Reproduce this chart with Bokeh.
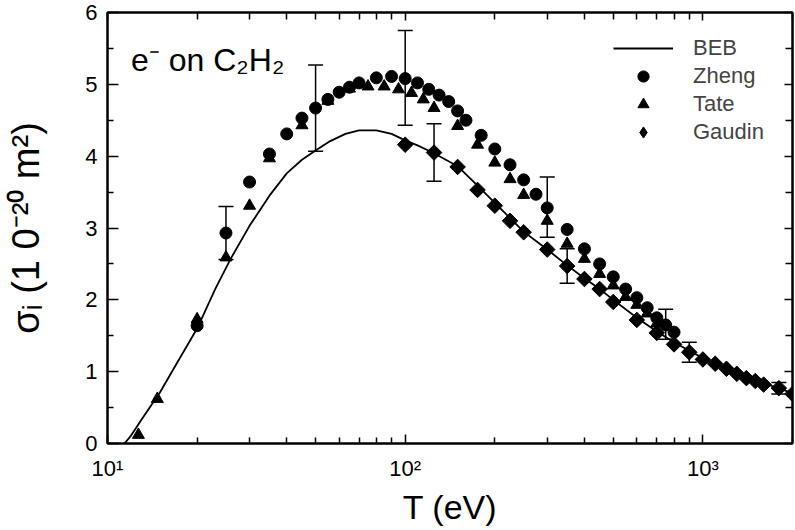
import numpy as np
from bokeh.plotting import figure
from bokeh.models import (Range1d, FixedTicker, LogAxis, LinearAxis, Whisker, TeeHead,
                          ColumnDataSource, Legend, LegendItem, Label, CustomJSTickFormatter)
from bokeh.embed import file_html
from bokeh.resources import INLINE

# ---------------- data ----------------
beb_T = [11.4, 12, 13, 15, 17, 20, 23, 26, 30, 35, 40, 45, 50, 56, 63, 70, 80, 90,
         100, 110, 125, 150, 175, 200, 250, 300, 350, 400, 450, 500, 600, 700, 800,
         900, 1000, 1200, 1500, 2000]
beb_sigma = [0.0, 0.11, 0.33, 0.71, 1.10, 1.60, 2.15, 2.58, 3.03, 3.45, 3.76, 3.95,
             4.08, 4.21, 4.31, 4.36, 4.36, 4.31, 4.22, 4.15, 4.04, 3.86, 3.59, 3.35,
             2.95, 2.70, 2.48, 2.30, 2.15, 2.00, 1.75, 1.56, 1.41, 1.29, 1.19, 1.04,
             0.88, 0.70]

zheng_T = [20, 25, 30, 35, 40, 45, 50, 55, 60, 65, 70, 80, 90, 100, 110, 120, 130,
           140, 150, 160, 180, 200, 225, 250, 275, 300, 350, 400, 450, 500, 550, 600,
           650, 700, 750, 800]
zheng_sigma = [1.64, 2.93, 3.64, 4.03, 4.31, 4.53, 4.67, 4.79, 4.89, 4.96, 5.02, 5.09,
               5.11, 5.08, 5.02, 4.93, 4.85, 4.76, 4.63, 4.50, 4.29, 4.10, 3.88, 3.67,
               3.47, 3.28, 2.98, 2.71, 2.50, 2.32, 2.15, 2.03, 1.89, 1.75, 1.65, 1.55]
zheng_err_T = [25, 50, 100, 300, 750]
zheng_err_sigma = [2.93, 4.67, 5.09, 3.29, 1.66]
zheng_err = [0.37, 0.60, 0.66, 0.42, 0.21]

tate_T = [12.7, 14.7, 20, 25, 30, 35, 45, 55, 65, 75, 85, 95, 105, 115, 125, 150, 175,
          200, 225, 250, 300, 350, 400, 450, 500, 550, 600, 650, 700]
tate_sigma = [0.12, 0.62, 1.73, 2.59, 3.31, 3.97, 4.43, 4.77, 4.94, 4.97, 4.97, 4.93,
              4.88, 4.79, 4.67, 4.42, 4.16, 3.91, 3.68, 3.46, 3.10, 2.78, 2.57, 2.36,
              2.20, 2.04, 1.93, 1.81, 1.67]

gaudin_T = [100, 125, 150, 175, 200, 225, 250, 300, 350, 400, 450, 500, 600, 700, 800,
            900, 1000, 1100, 1200, 1300, 1400, 1500, 1600, 1800, 2000]
gaudin_sigma = [4.16, 4.05, 3.85, 3.53, 3.31, 3.10, 2.94, 2.70, 2.47, 2.29, 2.15, 1.97,
                1.72, 1.54, 1.38, 1.27, 1.17, 1.11, 1.04, 0.97, 0.91, 0.87, 0.82, 0.77,
                0.69]
gaudin_err_T = [125, 350, 900, 1800]
gaudin_err_sigma = [4.05, 2.47, 1.27, 0.77]
gaudin_err = [0.40, 0.24, 0.14, 0.08]

x_major = [10, 100, 1000]
x_major_labels = ["10\u00b9", "10\u00b2", "10\u00b3"]
x_minor = [k * 10 ** n for n in (1, 2, 3) for k in range(2, 10) if k * 10 ** n <= 2000]
y_major = [0, 1, 2, 3, 4, 5, 6]
y_minor = [0.5, 1.5, 2.5, 3.5, 4.5, 5.5]

FONT = "Liberation Sans"

# ---------------- figure ----------------
p = figure(width=795, height=530, x_axis_type="log",
           x_range=Range1d(10, 2000), y_range=Range1d(0, 6),
           output_backend="svg", toolbar_location=None,
           min_border_left=107, min_border_right=3, min_border_top=12,
           min_border_bottom=87)
p.grid.visible = False
p.outline_line_color = "black"
p.outline_line_width = 2
p.background_fill_color = "white"
p.border_fill_color = "white"

xa = p.xaxis[0]
xa.ticker = FixedTicker(ticks=x_major, minor_ticks=x_minor)
xa.major_label_overrides = {v: s for v, s in zip(x_major, x_major_labels)}
xa.axis_label = "T (eV)"

ya = p.yaxis[0]
ya.ticker = FixedTicker(ticks=y_major, minor_ticks=y_minor)
ya.axis_label = "\u03c3\u1d62 (1 0\u207b\u00b2\u2070 m\u00b2)"

for ax in (xa, ya):
    ax.axis_line_width = 2
    ax.major_tick_out = 0
    ax.minor_tick_out = 0
    ax.major_tick_line_width = 1.5
    ax.minor_tick_line_width = 1.5
    ax.major_label_text_font = FONT
    ax.major_label_text_font_size = "22px"
    ax.axis_label_text_font = FONT
    ax.axis_label_text_font_style = "normal"
    ax.major_label_text_color = "black"
    ax.axis_label_text_color = "black"

xa.axis_label_text_font_size = "34px"
ya.axis_label_text_font_size = "38px"
xa.major_tick_in = 9
xa.minor_tick_in = 6
xa.major_label_standoff = 12
xa.axis_label_standoff = 4
ya.major_tick_in = 11
ya.minor_tick_in = 6
ya.major_label_standoff = 10
ya.axis_label_standoff = 35

blank = CustomJSTickFormatter(code="return ''")
top = LogAxis(ticker=FixedTicker(ticks=x_major, minor_ticks=x_minor), formatter=blank)
right = LinearAxis(ticker=FixedTicker(ticks=y_major, minor_ticks=y_minor), formatter=blank)
for ax in (top, right):
    ax.axis_line_width = 2
    ax.major_tick_out = 0
    ax.minor_tick_out = 0
    ax.major_tick_in = 8
    ax.minor_tick_in = 7
    ax.major_tick_line_width = 1.5
    ax.minor_tick_line_width = 1.5
    ax.major_label_standoff = 0
p.add_layout(top, "above")
p.add_layout(right, "right")

# ---------------- data renderers ----------------
r_beb = p.line(beb_T, beb_sigma, line_color="black", line_width=1.8, line_join="round")
r_z = p.scatter(zheng_T, zheng_sigma, marker="circle", size=12, color="black")
r_t = p.scatter(tate_T, tate_sigma, marker="triangle", size=12, color="black")
r_g = p.scatter(gaudin_T, gaudin_sigma, marker="square", angle=np.pi / 4, size=11,
                color="black")
# hidden twin used only to draw a diamond-shaped key in the legend
r_g_key = p.scatter(gaudin_T, gaudin_sigma, marker="diamond", size=16, color="black",
                    visible=False)

def add_err(ts, ss, es):
    src = ColumnDataSource(dict(base=ts,
                                upper=[s + e for s, e in zip(ss, es)],
                                lower=[s - e for s, e in zip(ss, es)]))
    w = Whisker(source=src, base="base", upper="upper", lower="lower",
                dimension="height", line_color="black", line_width=1.5,
                upper_head=TeeHead(size=15, line_width=1.5, line_color="black"),
                lower_head=TeeHead(size=15, line_width=1.5, line_color="black"))
    p.add_layout(w)

add_err(zheng_err_T, zheng_err_sigma, zheng_err)
add_err(gaudin_err_T, gaudin_err_sigma, gaudin_err)

# ---------------- legend ----------------
legend = Legend(items=[LegendItem(label="BEB", renderers=[r_beb]),
                       LegendItem(label="Zheng", renderers=[r_z]),
                       LegendItem(label="Tate", renderers=[r_t]),
                       LegendItem(label="Gaudin", renderers=[r_g_key])],
                location=(506, 297), orientation="vertical",
                glyph_width=60, glyph_height=28, label_height=28, spacing=0,
                label_standoff=20, padding=0, margin=0,
                label_text_font=FONT, label_text_font_size="22px",
                border_line_alpha=0, background_fill_alpha=0,
                inactive_fill_alpha=0)
p.add_layout(legend, "center")

# ---------------- annotation ----------------
p.add_layout(Label(x=12.0, y=5.34, text="e\u207b on C\u2082H\u2082",
                   text_font=FONT, text_font_size="32px", text_color="black",
                   text_baseline="alphabetic"))

open("out.html", "w").write(file_html(p, INLINE))
